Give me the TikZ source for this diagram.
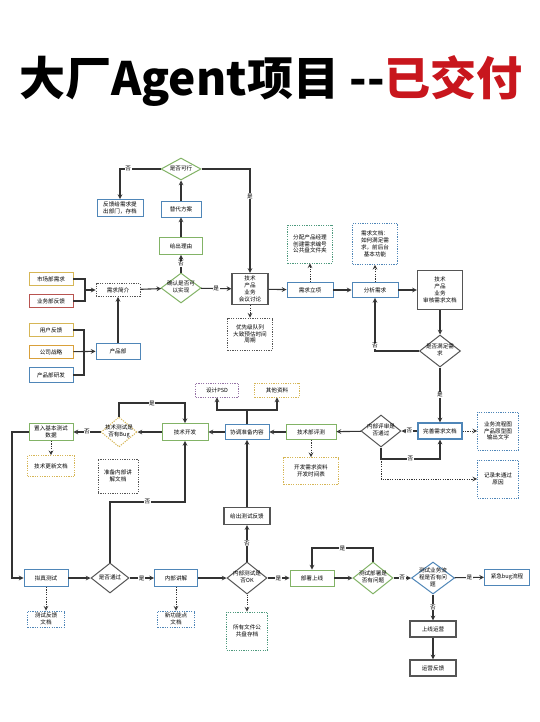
\documentclass[tikz,border=0pt]{standalone}
\usepackage{fontspec}
\setmainfont{Noto Sans CJK SC}
\usetikzlibrary{shapes.geometric, arrows}

\definecolor{bdgreen}{HTML}{82B366}
\definecolor{bdblue}{HTML}{4F86B8}
\definecolor{bdyellow}{HTML}{D6B656}
\definecolor{bdorange}{HTML}{D9A03A}
\definecolor{bdred}{HTML}{B85450}
\definecolor{bdpurple}{HTML}{9673A6}
\definecolor{bdteal}{HTML}{4E9A7E}
\definecolor{bdgray}{HTML}{555555}
\definecolor{linegray}{HTML}{333333}
\definecolor{titlered}{HTML}{C8161D}

\newcommand{\dtext}[1]{\makebox[0pt]{\begin{tabular}{@{}c@{}}#1\end{tabular}}}

\tikzstyle{box} = [rectangle, minimum width=44, minimum height=16, inner sep=1, align=center, fill=white, line width=0.9, font=\fontsize{5.6}{6.8}\selectfont]
\tikzstyle{greenbox} = [box, draw=bdgreen]
\tikzstyle{bluebox} = [box, draw=bdblue]
\tikzstyle{yellowbox} = [box, draw=bdyellow]
\tikzstyle{orangebox} = [box, draw=bdorange]
\tikzstyle{redbox} = [box, draw=bdred]
\tikzstyle{darkbox} = [box, draw=bdgray, line width=1.2]
\tikzstyle{note} = [box, draw=bdgray, dash pattern=on 1.2pt off 1.2pt, line width=0.9]
\tikzstyle{decision} = [diamond, minimum width=40, minimum height=32, inner sep=0, fill=white, draw=bdgray, line width=1.0, font=\fontsize{5.6}{6.8}\selectfont]
\tikzstyle{arrow} = [line width=1.1, draw=linegray, ->, >=stealth]
\tikzstyle{dotarrow} = [arrow, line width=1.0, dash pattern=on 1.2pt off 1.2pt]
\tikzstyle{line} = [line width=1.1, draw=linegray]
\tikzstyle{lbl} = [fill=white, inner sep=0.6, font=\fontsize{5.6}{6.8}\selectfont]

\begin{document}
\begin{tikzpicture}[x=1pt, y=-1pt]
\fill [white] (0,0) rectangle (540,722);
\useasboundingbox (0,0) rectangle (540,722);

\node (title) at (271,81) {\fontsize{46}{50}\selectfont\bfseries 大厂Agent项目 -{}-\textcolor{titlered}{已交付}};

% sources
\node (mkt) [yellowbox, minimum height=13] at (51,279) {市场部需求};
\node (biz) [redbox, minimum height=13] at (51,301) {业务部反馈};
\node (user) [yellowbox, minimum height=13] at (51,330) {用户反馈};
\node (strat) [orangebox, minimum height=13] at (51,352) {公司战略};
\node (rnd) [bluebox, minimum height=15] at (51,375) {产品部研发};
\node (intro) [note, minimum height=13] at (118,290) {需求简介};
\node (pm) [bluebox] at (118,351) {产品部};

\coordinate (j1) at (85,290);
\coordinate (j2) at (84,352);
\draw [line] (mkt.east) -| (j1);
\draw [line] (biz.east) -| (j1);
\draw [arrow] (j1) -- (intro.west);
\draw [line] (user.east) -| (j2);
\draw [line] (rnd.east) -| (j2);
\draw [arrow] (strat) -- (pm);
\draw [arrow] (pm) -- (intro);

% feasibility
\node (confirm) [decision, draw=bdgreen, minimum height=30] at (181,288) {\dtext{确认是否可\\以实现}};
\node (reason) [greenbox, minimum width=43, minimum height=17] at (181,246) {给出理由};
\node (alt) [bluebox, minimum width=40] at (181,209) {替代方案};
\node (feasible) [decision, draw=bdgreen, minimum height=22] at (181,169) {\dtext{是否可行}};
\node (reject) [bluebox, minimum width=46, minimum height=17] at (120,208) {反馈给需求提\\出部门，存档};
\node (meet) [darkbox, minimum width=36, minimum height=31] at (250,289) {技术\\产品\\业务\\会议讨论};
\node (queue) [note, minimum width=45, minimum height=32] at (250,334) {优先级队列\\大致预估时间\\周期};

\draw [arrow] (intro) -- (confirm);
\draw [arrow] (confirm) -- node[lbl] {否} (reason);
\draw [arrow] (reason) -- (alt);
\draw [arrow] (alt) -- (feasible);
\draw [arrow] (feasible.west) -| node[lbl, pos=0.4] {否} (reject.north);
\draw [arrow] (feasible.east) -| node[lbl, pos=0.63] {是} (meet.north);
\draw [arrow] (confirm) -- node[lbl] {是} (meet);
\draw [dotarrow] (meet) -- (queue);

% requirements
\node (setup) [bluebox, minimum width=46, minimum height=15] at (310,290) {需求立项};
\node (analyze) [bluebox, minimum width=46, minimum height=15] at (375,290) {分析需求};
\node (assign) [note, draw=bdteal, minimum width=45, minimum height=38] at (310,244) {分配产品经理\\创建需求编号\\公共盘文件夹};
\node (reqdoc) [note, draw=bdblue, minimum width=45, minimum height=41] at (375,244) {需求文档：\\如何满足需\\求，前后台\\基本功能};
\node (review) [darkbox, minimum width=45, minimum height=39] at (440,290) {技术\\产品\\业务\\审核需求文档};
\node (satisfy) [decision, minimum width=41] at (440,351) {\dtext{是否满足需\\求}};

\draw [arrow] (meet) -- (setup);
\draw [arrow] (setup) -- (analyze);
\draw [arrow] (analyze) -- (review);
\draw [dotarrow] (setup) -- (assign);
\draw [dotarrow] (analyze) -- (reqdoc);
\draw [arrow] (review) -- (satisfy);
\draw [arrow] (satisfy.west) -| node[lbl, pos=0.55] {否} (analyze.south);

% review loop
\node (refine) [bluebox, line width=1.2] at (440,431) {完善需求文档};
\node (inreview) [decision] at (381,431) {\dtext{内部评审是\\否通过}};
\node (flowdoc) [note, draw=bdblue, minimum width=41, minimum height=38] at (498,431) {业务流程图\\产品原型图\\输出文字};
\node (fail) [note, draw=bdblue, minimum width=41, minimum height=38] at (498,479) {记录未通过\\原因};
\coordinate (j3) at (381,459);
\coordinate (j4) at (381,479);

\draw [arrow] (satisfy) -- node[lbl] {是} (refine);
\draw [arrow] (refine) -- node[lbl] {否} (inreview);
\draw [arrow] (inreview.south) -- (j3) -| node[lbl, pos=0.25] {否} (refine.south);
\draw [dotarrow] (refine) -- (flowdoc);
\draw [dotarrow] (j3) -- (j4) -- (fail.west);

% development
\node (techtest) [greenbox, minimum width=50, minimum height=15] at (311,432) {技术部评测};
\node (prep) [bluebox, minimum height=15] at (247,432) {协调准备内容};
\node (psd) [note, draw=bdpurple, minimum width=43, minimum height=14] at (217,390) {设计PSD};
\node (other) [note, draw=bdyellow, minimum width=45, minimum height=14] at (277,390) {其他资料};
\node (devdoc) [note, draw=bdyellow, minimum width=55, minimum height=27] at (311,471) {开发需求资料\\开发时间表};
\coordinate (j5) at (247,410);

\draw [arrow] (inreview) -- (techtest);
\draw [dotarrow] (techtest) -- (devdoc);
\draw [arrow] (techtest) -- (prep);
\draw [line] (prep.north) -- (j5);
\draw [arrow] (j5) -| (psd.south);
\draw [arrow] (j5) -| (other.south);

\node (dev) [greenbox, minimum width=46, minimum height=17] at (185,432) {技术开发};
\node (bugcheck) [decision, draw=bdyellow, dash pattern=on 1.2pt off 1.2pt, minimum width=36, minimum height=30] at (119,432) {\dtext{技术测试是\\否有Bug}};
\node (seed) [greenbox, minimum height=17] at (51,432) {置入基本测试\\数据};
\node (techdoc) [note, draw=bdyellow, minimum width=47, minimum height=21] at (51,466) {技术更新文档};
\node (prepdoc) [note, minimum width=40, minimum height=34] at (118,476) {准备内部讲\\解文档};
\coordinate (j6) at (119,403);

\draw [arrow] (prep) -- (dev);
\draw [arrow] (dev) -- (bugcheck);
\draw [arrow] (bugcheck.north) -- (j6) -| node[lbl, pos=0.25] {是} (dev.north);
\draw [arrow] (bugcheck) -- node[lbl] {否} (seed);
\draw [dotarrow] (seed) -- (techdoc);

% testing
\node (sim) [bluebox, minimum height=17] at (46,578) {拟真测试};
\node (pass) [decision, minimum width=38, minimum height=30] at (110,578) {\dtext{是否通过}};
\node (explain) [bluebox, minimum width=43, minimum height=17] at (176,578) {内部讲解};
\node (fbdoc) [note, draw=bdblue, minimum width=37, minimum height=16] at (46,619) {测试反馈\\文档};
\node (newdoc) [note, draw=bdblue, minimum width=37, minimum height=16] at (176,619) {新功能点\\文档};
\coordinate (j7) at (12,432);
\coordinate (j8) at (12,578);
\coordinate (j9) at (110,502);

\draw [arrow] (seed.west) -- (j7) -- (j8) -- (sim.west);
\draw [arrow] (sim) -- (pass);
\draw [arrow] (pass) -- node[lbl] {是} (explain);
\draw [arrow] (pass.north) -- (j9) -| node[lbl, pos=0.25] {否} (dev.south);
\draw [dotarrow] (sim) -- (fbdoc);
\draw [dotarrow] (explain) -- (newdoc);

\node (okcheck) [decision] at (247,578) {\dtext{内部测试是\\否OK}};
\node (feedback) [darkbox, minimum width=46, minimum height=17] at (247,516) {给出测试反馈};
\node (archive) [note, draw=bdteal, minimum width=41, minimum height=38] at (247,631) {所有文件公\\共盘存档};

\draw [arrow] (explain) -- (okcheck);
\draw [arrow] (okcheck) -- node[lbl] {否} (feedback);
\draw [arrow] (feedback) -- (prep);
\draw [dotarrow] (okcheck) -- (archive);

% launch
\node (deploy) [greenbox] at (312,578) {部署上线};
\node (deploycheck) [decision, draw=bdgreen] at (373,578) {\dtext{测试部署是\\否有问题}};
\node (flowcheck) [decision, draw=bdblue, minimum width=43] at (433,578) {\dtext{测试业务流\\程是否有问\\题}};
\node (urgent) [bluebox, minimum width=45] at (507,577) {紧急bug流程};
\node (launch) [darkbox, minimum width=46] at (433,629) {上线运营};
\node (ops) [darkbox, minimum width=46] at (433,668) {运营反馈};
\coordinate (j10) at (373,548);

\draw [arrow] (okcheck) -- node[lbl] {是} (deploy);
\draw [arrow] (deploy) -- (deploycheck);
\draw [arrow] (deploycheck.north) -- (j10) -| node[lbl, pos=0.25] {是} (deploy.north);
\draw [arrow] (deploycheck) -- node[lbl] {否} (flowcheck);
\draw [arrow] (flowcheck) -- node[lbl] {是} (urgent);
\draw [arrow] (flowcheck) -- node[lbl] {否} (launch);
\draw [arrow] (launch) -- (ops);

\end{tikzpicture}
\end{document}
